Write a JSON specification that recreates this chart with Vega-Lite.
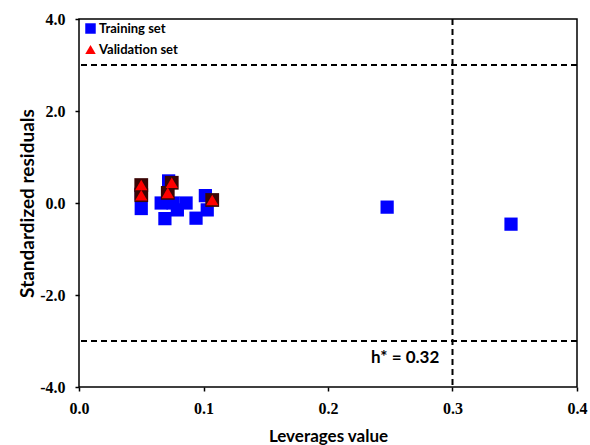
{
  "$schema": "https://vega.github.io/schema/vega-lite/v6.json",
  "width": 498,
  "height": 368,
  "autosize": "none",
  "padding": {"left": 79, "top": 19, "right": 13, "bottom": 58},
  "background": "white",
  "config": {
    "view": {"stroke": "black", "strokeWidth": 1.5},
    "axis": {"grid": false, "domain": false, "tickColor": "black", "tickSize": 4, "tickWidth": 1.5, "labelFlush": false}
  },
  "datasets": {
    "pts": [
      {"lev": 0.050, "res": -0.12, "set": "Training set"},
      {"lev": 0.050, "res": 0.20, "set": "Training set"},
      {"lev": 0.072, "res": 0.48, "set": "Training set"},
      {"lev": 0.066, "res": 0.00, "set": "Training set"},
      {"lev": 0.0756, "res": 0.00, "set": "Training set"},
      {"lev": 0.086, "res": 0.00, "set": "Training set"},
      {"lev": 0.069, "res": -0.34, "set": "Training set"},
      {"lev": 0.079, "res": -0.15, "set": "Training set"},
      {"lev": 0.094, "res": -0.33, "set": "Training set"},
      {"lev": 0.1015, "res": 0.16, "set": "Training set"},
      {"lev": 0.103, "res": -0.15, "set": "Training set"},
      {"lev": 0.2475, "res": -0.09, "set": "Training set"},
      {"lev": 0.347, "res": -0.46, "set": "Training set"},
      {"lev": 0.050, "res": 0.39, "set": "Validation set"},
      {"lev": 0.050, "res": 0.17, "set": "Validation set"},
      {"lev": 0.0745, "res": 0.44, "set": "Validation set"},
      {"lev": 0.0713, "res": 0.22, "set": "Validation set"},
      {"lev": 0.107, "res": 0.065, "set": "Validation set"}
    ],
    "hlines": [{"y": 3}, {"y": -3}],
    "vlines": [{"x": 0.3}],
    "note": [{"x": 0.262, "y": -3.37, "t": "h* = 0.32"}]
  },
  "layer": [
    {
      "data": {"name": "hlines"},
      "mark": {"type": "rule", "color": "black", "strokeWidth": 2, "strokeDash": [6, 4]},
      "encoding": {"y": {"field": "y", "type": "quantitative"}}
    },
    {
      "data": {"name": "vlines"},
      "mark": {"type": "rule", "color": "black", "strokeWidth": 2, "strokeDash": [6, 4]},
      "encoding": {"x": {"field": "x", "type": "quantitative"}}
    },
    {
      "data": {"name": "note"},
      "mark": {"type": "text", "font": "Lato", "fontWeight": "bold", "fontSize": 17, "color": "black"},
      "encoding": {
        "x": {"field": "x", "type": "quantitative"},
        "y": {"field": "y", "type": "quantitative"},
        "text": {"field": "t"}
      }
    },
    {
      "data": {"name": "pts"},
      "transform": [{"filter": "datum.set === 'Training set'"}],
      "mark": {"type": "point", "filled": true, "opacity": 1, "size": 175, "strokeWidth": 0},
      "encoding": {
        "x": {"field": "lev", "type": "quantitative", "scale": {"domain": [0, 0.4]},
          "axis": {"values": [0, 0.1, 0.2, 0.3, 0.4], "format": ".1f", "title": "Leverages value", "titlePadding": 12, "labelPadding": 9,
            "labelFont": "Times New Roman", "labelFontWeight": "bold", "labelFontSize": 16, "labelColor": "black",
            "titleFont": "Lato", "titleFontWeight": "bold", "titleFontSize": 17, "titleColor": "black"}},
        "y": {"field": "res", "type": "quantitative", "scale": {"domain": [-4, 4]},
          "axis": {"values": [-4, -2, 0, 2, 4], "labelExpr": "datum.value < 0 ? '-' + format(-datum.value, '.1f') : format(datum.value, '.1f')", "title": "Standardized  residuals", "titlePadding": 2, "labelPadding": 10,
            "labelFont": "Times New Roman", "labelFontWeight": "bold", "labelFontSize": 16, "labelColor": "black",
            "titleFont": "Lato", "titleFontWeight": "bold", "titleFontSize": 19, "titleColor": "black"}},
        "color": {"field": "set", "type": "nominal", "scale": {"domain": ["Training set", "Validation set"], "range": ["#0000ff", "#ff0000"]},
          "legend": {"orient": "none", "legendX": 5, "legendY": 3, "title": null, "labelFont": "Lato", "labelFontWeight": "bold", "labelFontSize": 13, "labelColor": "black", "symbolSize": 110, "rowPadding": 7, "labelOffset": 2, "symbolStrokeWidth": 0}},
        "shape": {"field": "set", "type": "nominal", "scale": {"domain": ["Training set", "Validation set"], "range": ["square", "triangle-up"]}}
      }
    },
    {
      "data": {"name": "pts"},
      "transform": [{"filter": "datum.set === 'Validation set'"}],
      "mark": {"type": "point", "filled": true, "opacity": 1, "size": 190, "shape": "square", "color": "#3a0505", "strokeWidth": 0},
      "encoding": {
        "x": {"field": "lev", "type": "quantitative"},
        "y": {"field": "res", "type": "quantitative"}
      }
    },
    {
      "data": {"name": "pts"},
      "transform": [{"filter": "datum.set === 'Validation set'"}],
      "mark": {"type": "point", "filled": true, "opacity": 1, "size": 150, "strokeWidth": 0},
      "encoding": {
        "x": {"field": "lev", "type": "quantitative"},
        "y": {"field": "res", "type": "quantitative"},
        "color": {"field": "set", "type": "nominal"},
        "shape": {"field": "set", "type": "nominal"}
      }
    }
  ]
}
